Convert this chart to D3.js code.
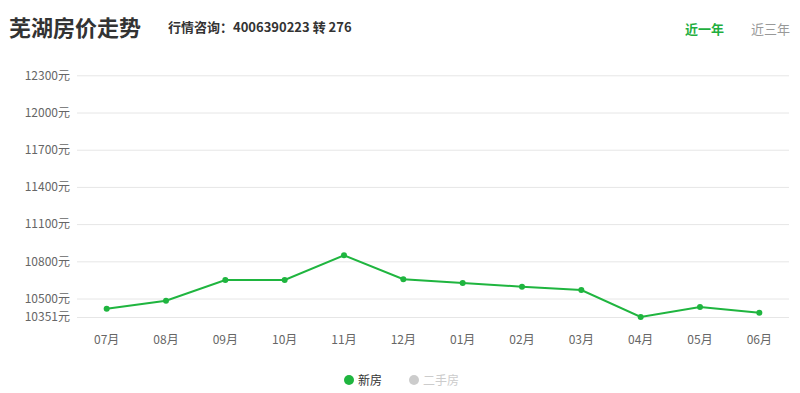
<!DOCTYPE html>
<html><head><meta charset="utf-8">
<script src="https://cdn.jsdelivr.net/npm/d3@7"></script>
<style>body{margin:0;background:#fff;font-family:"Microsoft YaHei","Noto Sans CJK SC",sans-serif;}</style>
</head><body><svg id="c" width="800" height="393"></svg>
<script>
const months = ["07月","08月","09月","10月","11月","12月","01月","02月","03月","04月","05月","06月"];
const newHouse = [10418,10482,10649,10649,10849,10655,10625,10595,10569,10351,10432,10386];
const yTicks = [10351,10500,10800,11100,11400,11700,12000,12300];
const legendItems = ["新房","二手房"];

const svg = d3.select("#c");
const font = '"Noto Sans CJK SC",sans-serif';
const x = d3.scaleBand().domain(months).range([77,789]);
const y = d3.scaleLinear().domain([10351,12300]).range([317,75.3]);

svg.append("text").attr("x",9).attr("y",36).attr("font-family",font).attr("font-weight","bold")
  .attr("font-size",22).attr("fill","#333").text("芜湖房价走势");
svg.append("text").attr("x",168).attr("y",32).attr("font-family",font).attr("font-weight","bold")
  .attr("font-size",13).attr("fill","#333").text("行情咨询：4006390223 转 276");
svg.append("text").attr("x",685).attr("y",34).attr("font-family",font).attr("font-weight","bold")
  .attr("font-size",13).attr("fill","#1fae3f").text("近一年");
svg.append("text").attr("x",751).attr("y",34).attr("font-family",font)
  .attr("font-size",13).attr("fill","#999").text("近三年");

const ga = svg.append("g").attr("transform","translate(77,0)")
  .call(d3.axisLeft(y).tickValues(yTicks).tickSize(-712).tickPadding(7).tickFormat(d=>d+"元"));
ga.select(".domain").remove();
ga.selectAll(".tick line").attr("stroke","#e6e6e6");
ga.selectAll(".tick text").attr("font-family",font).attr("font-size",12).attr("fill","#666");

const gx = svg.append("g").attr("transform","translate(0,317)")
  .call(d3.axisBottom(x).tickSize(0).tickPadding(18));
gx.select(".domain").remove();
gx.selectAll(".tick text").attr("font-family",font).attr("font-size",12).attr("fill","#666");

const cx = d => x(d) + x.bandwidth()/2;
svg.append("path").datum(months).attr("fill","none").attr("stroke","#1fb53f").attr("stroke-width",2)
  .attr("d", d3.line().x(d=>cx(d)).y((d,i)=>y(newHouse[i])));
svg.selectAll("circle.p").data(months).join("circle").attr("class","p")
  .attr("cx",d=>cx(d)).attr("cy",(d,i)=>y(newHouse[i])).attr("r",3).attr("fill","#1fb53f");

const lx = [349,414], lc = ["#1fb53f","#ccc"], tc = ["#333","#ccc"];
legendItems.forEach((t,i)=>{
  svg.append("circle").attr("cx",lx[i]).attr("cy",380).attr("r",5).attr("fill",lc[i]);
  svg.append("text").attr("x",lx[i]+9).attr("y",384.5).attr("font-family",font)
    .attr("font-size",12).attr("fill",tc[i]).text(t);
});
</script></body></html>
